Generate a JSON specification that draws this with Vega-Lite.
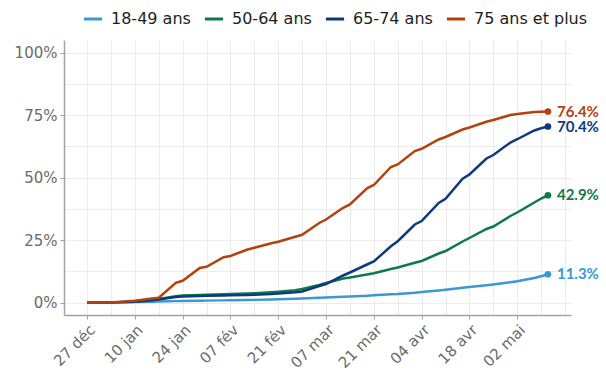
{
  "$schema": "https://vega.github.io/schema/vega-lite/v6.json",
  "width": 507,
  "height": 275,
  "autosize": {"type": "none"},
  "padding": {"left": 64, "top": 40, "right": 35, "bottom": 55},
  "background": "white",
  "config": {
    "view": {"stroke": null},
    "axis": {
      "title": null,
      "gridColor": "#ececec",
      "gridWidth": 1,
      "domainColor": "#a3a3a3",
      "domainWidth": 1.5,
      "tickColor": "#a3a3a3",
      "tickSize": 4,
      "labelFont": "DejaVu Sans",
      "labelFontSize": 15,
      "labelColor": "#6b6b6b",
      "labelOverlap": false
    }
  },
  "data": {
    "values": [
      {"date": "2020-12-27", "groupe": "18-49 ans", "part": 0},
      {"date": "2021-01-03", "groupe": "18-49 ans", "part": 0.0002},
      {"date": "2021-01-10", "groupe": "18-49 ans", "part": 0.0015},
      {"date": "2021-01-15", "groupe": "18-49 ans", "part": 0.003},
      {"date": "2021-01-17", "groupe": "18-49 ans", "part": 0.004},
      {"date": "2021-01-22", "groupe": "18-49 ans", "part": 0.0055},
      {"date": "2021-01-24", "groupe": "18-49 ans", "part": 0.006},
      {"date": "2021-01-29", "groupe": "18-49 ans", "part": 0.007},
      {"date": "2021-01-31", "groupe": "18-49 ans", "part": 0.0075},
      {"date": "2021-02-05", "groupe": "18-49 ans", "part": 0.0085},
      {"date": "2021-02-07", "groupe": "18-49 ans", "part": 0.009},
      {"date": "2021-02-12", "groupe": "18-49 ans", "part": 0.01},
      {"date": "2021-02-14", "groupe": "18-49 ans", "part": 0.0105},
      {"date": "2021-02-19", "groupe": "18-49 ans", "part": 0.012},
      {"date": "2021-02-21", "groupe": "18-49 ans", "part": 0.013},
      {"date": "2021-02-26", "groupe": "18-49 ans", "part": 0.015},
      {"date": "2021-02-28", "groupe": "18-49 ans", "part": 0.016},
      {"date": "2021-03-05", "groupe": "18-49 ans", "part": 0.019},
      {"date": "2021-03-07", "groupe": "18-49 ans", "part": 0.02},
      {"date": "2021-03-12", "groupe": "18-49 ans", "part": 0.023},
      {"date": "2021-03-14", "groupe": "18-49 ans", "part": 0.024},
      {"date": "2021-03-19", "groupe": "18-49 ans", "part": 0.027},
      {"date": "2021-03-21", "groupe": "18-49 ans", "part": 0.029},
      {"date": "2021-03-26", "groupe": "18-49 ans", "part": 0.033},
      {"date": "2021-03-28", "groupe": "18-49 ans", "part": 0.034},
      {"date": "2021-04-02", "groupe": "18-49 ans", "part": 0.039},
      {"date": "2021-04-04", "groupe": "18-49 ans", "part": 0.042},
      {"date": "2021-04-09", "groupe": "18-49 ans", "part": 0.048},
      {"date": "2021-04-11", "groupe": "18-49 ans", "part": 0.051},
      {"date": "2021-04-16", "groupe": "18-49 ans", "part": 0.059},
      {"date": "2021-04-18", "groupe": "18-49 ans", "part": 0.062},
      {"date": "2021-04-23", "groupe": "18-49 ans", "part": 0.069},
      {"date": "2021-04-25", "groupe": "18-49 ans", "part": 0.072},
      {"date": "2021-04-30", "groupe": "18-49 ans", "part": 0.081},
      {"date": "2021-05-02", "groupe": "18-49 ans", "part": 0.085},
      {"date": "2021-05-07", "groupe": "18-49 ans", "part": 0.098},
      {"date": "2021-05-09", "groupe": "18-49 ans", "part": 0.105},
      {"date": "2021-05-11", "groupe": "18-49 ans", "part": 0.113},

      {"date": "2020-12-27", "groupe": "50-64 ans", "part": 0},
      {"date": "2021-01-03", "groupe": "50-64 ans", "part": 0.0005},
      {"date": "2021-01-10", "groupe": "50-64 ans", "part": 0.003},
      {"date": "2021-01-15", "groupe": "50-64 ans", "part": 0.01},
      {"date": "2021-01-17", "groupe": "50-64 ans", "part": 0.014},
      {"date": "2021-01-22", "groupe": "50-64 ans", "part": 0.025},
      {"date": "2021-01-24", "groupe": "50-64 ans", "part": 0.028},
      {"date": "2021-01-29", "groupe": "50-64 ans", "part": 0.03},
      {"date": "2021-01-31", "groupe": "50-64 ans", "part": 0.031},
      {"date": "2021-02-05", "groupe": "50-64 ans", "part": 0.033},
      {"date": "2021-02-07", "groupe": "50-64 ans", "part": 0.034},
      {"date": "2021-02-12", "groupe": "50-64 ans", "part": 0.036},
      {"date": "2021-02-14", "groupe": "50-64 ans", "part": 0.037},
      {"date": "2021-02-19", "groupe": "50-64 ans", "part": 0.041},
      {"date": "2021-02-21", "groupe": "50-64 ans", "part": 0.043},
      {"date": "2021-02-26", "groupe": "50-64 ans", "part": 0.049},
      {"date": "2021-02-28", "groupe": "50-64 ans", "part": 0.054},
      {"date": "2021-03-05", "groupe": "50-64 ans", "part": 0.07},
      {"date": "2021-03-07", "groupe": "50-64 ans", "part": 0.078},
      {"date": "2021-03-12", "groupe": "50-64 ans", "part": 0.096},
      {"date": "2021-03-14", "groupe": "50-64 ans", "part": 0.1},
      {"date": "2021-03-19", "groupe": "50-64 ans", "part": 0.112},
      {"date": "2021-03-21", "groupe": "50-64 ans", "part": 0.117},
      {"date": "2021-03-26", "groupe": "50-64 ans", "part": 0.134},
      {"date": "2021-03-28", "groupe": "50-64 ans", "part": 0.14},
      {"date": "2021-04-02", "groupe": "50-64 ans", "part": 0.159},
      {"date": "2021-04-04", "groupe": "50-64 ans", "part": 0.166},
      {"date": "2021-04-09", "groupe": "50-64 ans", "part": 0.196},
      {"date": "2021-04-11", "groupe": "50-64 ans", "part": 0.206},
      {"date": "2021-04-16", "groupe": "50-64 ans", "part": 0.244},
      {"date": "2021-04-18", "groupe": "50-64 ans", "part": 0.258},
      {"date": "2021-04-23", "groupe": "50-64 ans", "part": 0.294},
      {"date": "2021-04-25", "groupe": "50-64 ans", "part": 0.304},
      {"date": "2021-04-30", "groupe": "50-64 ans", "part": 0.346},
      {"date": "2021-05-02", "groupe": "50-64 ans", "part": 0.36},
      {"date": "2021-05-07", "groupe": "50-64 ans", "part": 0.4},
      {"date": "2021-05-09", "groupe": "50-64 ans", "part": 0.416},
      {"date": "2021-05-11", "groupe": "50-64 ans", "part": 0.429},

      {"date": "2020-12-27", "groupe": "65-74 ans", "part": 0},
      {"date": "2021-01-03", "groupe": "65-74 ans", "part": 0.0005},
      {"date": "2021-01-10", "groupe": "65-74 ans", "part": 0.003},
      {"date": "2021-01-15", "groupe": "65-74 ans", "part": 0.009},
      {"date": "2021-01-17", "groupe": "65-74 ans", "part": 0.012},
      {"date": "2021-01-22", "groupe": "65-74 ans", "part": 0.022},
      {"date": "2021-01-24", "groupe": "65-74 ans", "part": 0.024},
      {"date": "2021-01-29", "groupe": "65-74 ans", "part": 0.026},
      {"date": "2021-01-31", "groupe": "65-74 ans", "part": 0.027},
      {"date": "2021-02-05", "groupe": "65-74 ans", "part": 0.028},
      {"date": "2021-02-07", "groupe": "65-74 ans", "part": 0.029},
      {"date": "2021-02-12", "groupe": "65-74 ans", "part": 0.03},
      {"date": "2021-02-14", "groupe": "65-74 ans", "part": 0.031},
      {"date": "2021-02-19", "groupe": "65-74 ans", "part": 0.034},
      {"date": "2021-02-21", "groupe": "65-74 ans", "part": 0.036},
      {"date": "2021-02-26", "groupe": "65-74 ans", "part": 0.041},
      {"date": "2021-02-28", "groupe": "65-74 ans", "part": 0.044},
      {"date": "2021-03-05", "groupe": "65-74 ans", "part": 0.066},
      {"date": "2021-03-07", "groupe": "65-74 ans", "part": 0.074},
      {"date": "2021-03-12", "groupe": "65-74 ans", "part": 0.108},
      {"date": "2021-03-14", "groupe": "65-74 ans", "part": 0.12},
      {"date": "2021-03-19", "groupe": "65-74 ans", "part": 0.152},
      {"date": "2021-03-21", "groupe": "65-74 ans", "part": 0.164},
      {"date": "2021-03-26", "groupe": "65-74 ans", "part": 0.225},
      {"date": "2021-03-28", "groupe": "65-74 ans", "part": 0.245},
      {"date": "2021-04-02", "groupe": "65-74 ans", "part": 0.312},
      {"date": "2021-04-04", "groupe": "65-74 ans", "part": 0.326},
      {"date": "2021-04-09", "groupe": "65-74 ans", "part": 0.398},
      {"date": "2021-04-11", "groupe": "65-74 ans", "part": 0.415},
      {"date": "2021-04-16", "groupe": "65-74 ans", "part": 0.495},
      {"date": "2021-04-18", "groupe": "65-74 ans", "part": 0.512},
      {"date": "2021-04-23", "groupe": "65-74 ans", "part": 0.576},
      {"date": "2021-04-25", "groupe": "65-74 ans", "part": 0.59},
      {"date": "2021-04-30", "groupe": "65-74 ans", "part": 0.64},
      {"date": "2021-05-02", "groupe": "65-74 ans", "part": 0.653},
      {"date": "2021-05-07", "groupe": "65-74 ans", "part": 0.688},
      {"date": "2021-05-09", "groupe": "65-74 ans", "part": 0.697},
      {"date": "2021-05-11", "groupe": "65-74 ans", "part": 0.704},

      {"date": "2020-12-27", "groupe": "75 ans et plus", "part": 0},
      {"date": "2021-01-03", "groupe": "75 ans et plus", "part": 0.0005},
      {"date": "2021-01-10", "groupe": "75 ans et plus", "part": 0.007},
      {"date": "2021-01-15", "groupe": "75 ans et plus", "part": 0.016},
      {"date": "2021-01-17", "groupe": "75 ans et plus", "part": 0.019},
      {"date": "2021-01-22", "groupe": "75 ans et plus", "part": 0.079},
      {"date": "2021-01-24", "groupe": "75 ans et plus", "part": 0.087},
      {"date": "2021-01-29", "groupe": "75 ans et plus", "part": 0.138},
      {"date": "2021-01-31", "groupe": "75 ans et plus", "part": 0.143},
      {"date": "2021-02-05", "groupe": "75 ans et plus", "part": 0.181},
      {"date": "2021-02-07", "groupe": "75 ans et plus", "part": 0.186},
      {"date": "2021-02-12", "groupe": "75 ans et plus", "part": 0.212},
      {"date": "2021-02-14", "groupe": "75 ans et plus", "part": 0.219},
      {"date": "2021-02-19", "groupe": "75 ans et plus", "part": 0.237},
      {"date": "2021-02-21", "groupe": "75 ans et plus", "part": 0.243},
      {"date": "2021-02-26", "groupe": "75 ans et plus", "part": 0.263},
      {"date": "2021-02-28", "groupe": "75 ans et plus", "part": 0.271},
      {"date": "2021-03-05", "groupe": "75 ans et plus", "part": 0.318},
      {"date": "2021-03-07", "groupe": "75 ans et plus", "part": 0.332},
      {"date": "2021-03-12", "groupe": "75 ans et plus", "part": 0.379},
      {"date": "2021-03-14", "groupe": "75 ans et plus", "part": 0.392},
      {"date": "2021-03-19", "groupe": "75 ans et plus", "part": 0.457},
      {"date": "2021-03-21", "groupe": "75 ans et plus", "part": 0.47},
      {"date": "2021-03-26", "groupe": "75 ans et plus", "part": 0.542},
      {"date": "2021-03-28", "groupe": "75 ans et plus", "part": 0.552},
      {"date": "2021-04-02", "groupe": "75 ans et plus", "part": 0.606},
      {"date": "2021-04-04", "groupe": "75 ans et plus", "part": 0.615},
      {"date": "2021-04-09", "groupe": "75 ans et plus", "part": 0.652},
      {"date": "2021-04-11", "groupe": "75 ans et plus", "part": 0.662},
      {"date": "2021-04-16", "groupe": "75 ans et plus", "part": 0.692},
      {"date": "2021-04-18", "groupe": "75 ans et plus", "part": 0.7},
      {"date": "2021-04-23", "groupe": "75 ans et plus", "part": 0.723},
      {"date": "2021-04-25", "groupe": "75 ans et plus", "part": 0.73},
      {"date": "2021-04-30", "groupe": "75 ans et plus", "part": 0.75},
      {"date": "2021-05-02", "groupe": "75 ans et plus", "part": 0.754},
      {"date": "2021-05-07", "groupe": "75 ans et plus", "part": 0.762},
      {"date": "2021-05-09", "groupe": "75 ans et plus", "part": 0.763},
      {"date": "2021-05-11", "groupe": "75 ans et plus", "part": 0.764}
    ]
  },
  "encoding": {
    "x": {
      "field": "date",
      "type": "temporal",
      "scale": {
        "type": "utc",
        "domain": [
          {"year": 2020, "month": 12, "date": 20, "hours": 6, "utc": true},
          {"year": 2021, "month": 5, "date": 17, "hours": 18, "utc": true}
        ]
      },
      "axis": {
        "values": [
          {"year": 2020, "month": 12, "date": 27, "utc": true},
          {"year": 2021, "month": 1, "date": 3, "utc": true},
          {"year": 2021, "month": 1, "date": 10, "utc": true},
          {"year": 2021, "month": 1, "date": 17, "utc": true},
          {"year": 2021, "month": 1, "date": 24, "utc": true},
          {"year": 2021, "month": 1, "date": 31, "utc": true},
          {"year": 2021, "month": 2, "date": 7, "utc": true},
          {"year": 2021, "month": 2, "date": 14, "utc": true},
          {"year": 2021, "month": 2, "date": 21, "utc": true},
          {"year": 2021, "month": 2, "date": 28, "utc": true},
          {"year": 2021, "month": 3, "date": 7, "utc": true},
          {"year": 2021, "month": 3, "date": 14, "utc": true},
          {"year": 2021, "month": 3, "date": 21, "utc": true},
          {"year": 2021, "month": 3, "date": 28, "utc": true},
          {"year": 2021, "month": 4, "date": 4, "utc": true},
          {"year": 2021, "month": 4, "date": 11, "utc": true},
          {"year": 2021, "month": 4, "date": 18, "utc": true},
          {"year": 2021, "month": 4, "date": 25, "utc": true},
          {"year": 2021, "month": 5, "date": 2, "utc": true},
          {"year": 2021, "month": 5, "date": 9, "utc": true},
          {"year": 2021, "month": 5, "date": 16, "utc": true}
        ],
        "labelExpr": "(round((datum.value - utc(2020, 11, 27)) / 864e5) % 14 == 0 && datum.value < utc(2021, 4, 10)) ? utcFormat(datum.value, '%d') + ' ' + ['jan', 'fév', 'mar', 'avr', 'mai', 'juin', 'juil', 'août', 'sep', 'oct', 'nov', 'déc'][utcmonth(datum.value)] : ''",
        "tickOpacity": {
          "condition": {"test": "round((datum.value - utc(2020, 11, 27)) / 864e5) % 14 != 0 || datum.value > utc(2021, 4, 10)", "value": 0},
          "value": 1
        },
        "labelAngle": -45,
        "labelPadding": 3
      }
    },
    "y": {
      "field": "part",
      "type": "quantitative",
      "scale": {"domain": [-0.05, 1.05], "nice": false, "zero": false},
      "axis": {
        "values": [0, 0.125, 0.25, 0.375, 0.5, 0.625, 0.75, 0.875, 1],
        "labelExpr": "round(datum.value * 8) % 2 == 0 ? format(datum.value, '.0%') : ''",
        "tickOpacity": {
          "condition": {"test": "round(datum.value * 8) % 2 == 1", "value": 0},
          "value": 1
        },
        "labelPadding": 3
      }
    },
    "color": {
      "field": "groupe",
      "type": "nominal",
      "scale": {
        "domain": ["18-49 ans", "50-64 ans", "65-74 ans", "75 ans et plus"],
        "range": ["#3b98d4", "#0f7a48", "#0e3a7c", "#b3420f"]
      },
      "legend": {
        "title": null,
        "orient": "none",
        "direction": "horizontal",
        "legendX": 18,
        "legendY": -32,
        "symbolType": "stroke",
        "symbolStrokeWidth": 3,
        "symbolSize": 330,
        "labelFont": "DejaVu Sans",
        "labelFontSize": 16,
        "labelColor": "#1e1e1e",
        "labelOffset": 7,
        "columnPadding": 7
      }
    }
  },
  "layer": [
    {
      "mark": {"type": "line", "strokeWidth": 2.5, "interpolate": "linear"}
    },
    {
      "transform": [
        {"joinaggregate": [{"op": "max", "field": "part", "as": "pmax"}], "groupby": ["groupe"]},
        {"filter": "datum.part == datum.pmax"}
      ],
      "mark": {"type": "point", "filled": true, "size": 45, "opacity": 1}
    },
    {
      "transform": [
        {"joinaggregate": [{"op": "max", "field": "part", "as": "pmax"}], "groupby": ["groupe"]},
        {"filter": "datum.part == datum.pmax"}
      ],
      "mark": {"type": "text", "align": "left", "baseline": "middle", "dx": 9, "font": "Lato", "fontSize": 15, "fontWeight": "bold"},
      "encoding": {
        "text": {"field": "part", "type": "quantitative", "format": ".1%"}
      }
    }
  ]
}
